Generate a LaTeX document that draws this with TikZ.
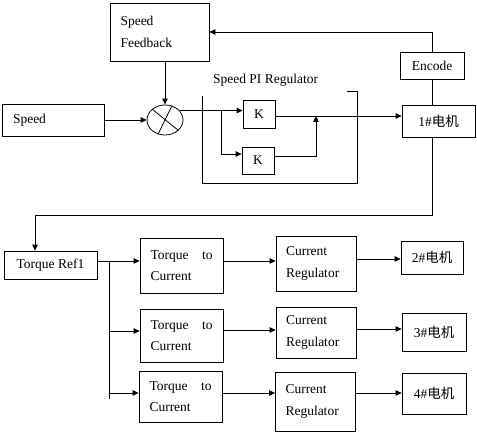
\documentclass[tikz,border=0pt]{standalone}
\usepackage{fontspec}
\setmainfont{Liberation Serif}
\newfontfamily\cjk{Noto Sans CJK SC}
\usetikzlibrary{arrows.meta,shapes.geometric}
\begin{document}
\begin{tikzpicture}[x=1pt,y=-1pt, line width=0.8pt,
  font=\fontsize{13.5}{21.5}\selectfont,
  box/.style={draw, rectangle, inner sep=0pt},
  arr/.style={-{Triangle[length=6pt,width=5.5pt]}},
  tc/.style={box, minimum width=83pt, text width=62pt, align=left},
  cr/.style={box, minimum width=80pt, text width=60pt, align=left}]
\useasboundingbox (0,0) rectangle (477,435);
% upper part
\node[box, minimum width=99pt, minimum height=58pt, text width=78pt, align=left] (fb) at (159.5,32) {Speed\\Feedback};
\node[box, minimum width=102pt, minimum height=32pt, text width=80pt, align=left] (spd) at (53,120) {Speed};
\node[draw, ellipse, minimum width=36pt, minimum height=30pt, inner sep=0pt] (sum) at (165,120) {};
\draw (sum.140) -- (sum.-38);
\draw (sum.64) -- (sum.244);
\node[box, minimum width=32pt, minimum height=28pt] (k1) at (259,114) {K};
\node[box, minimum width=32pt, minimum height=27pt] (k2) at (258,160.5) {K};
\node[box, minimum width=73pt, minimum height=32pt] (m1) at (438.5,121) {1\#{\cjk 电机}};
\node[box, minimum width=64pt, minimum height=27pt] (enc) at (432,65.5) {Encode};
\node (pil) at (265.5,80) {Speed PI Regulator};
\draw (347,91) -- (357,91) -- (357,183) -- (202,183) -- (202,96);
% upper connectors
\draw[arr] (spd) -- (sum);
\draw[arr] (fb.south -| sum) -- (sum.north);
\draw[arr] (sum.33) -- (sum.33 -| k1.west);
\coordinate (br) at (221,111);
\draw[arr] (br) |- ([yshift=6.5pt]k2.west);
\draw[arr] ([yshift=-2pt]k1.east) -- ([yshift=-2pt]k1.east -| m1.west);
\coordinate (j) at (316,116);
\draw[arr] ([yshift=4.5pt]k2.east) -| (j);
\draw[arr] (enc.north) |- (fb.east);
\draw (enc.south) -- (enc.south |- m1.north);
\coordinate (d1) at (432,215);
\coordinate (d2) at (35,215);
% lower part
\node[box, minimum width=93pt, minimum height=28pt] (tr) at (50.5,265) {Torque Ref1};
\draw[arr] (m1.south -| enc.south) -- (d1) -- (d2) -- (d2 |- tr.north);
\node[tc, minimum height=55pt] (t1) at (181.5,265.5) {Torque\hfill to\\Current};
\node[tc, minimum height=53pt] (t2) at (181.5,335.5) {Torque\hfill to\\Current};
\node[tc, minimum height=51pt] (t3) at (180.5,396.5) {Torque\hfill to\\Current};
\node[cr, minimum height=55pt] (c1) at (316,263.5) {Current\\Regulator};
\node[cr, minimum height=51pt] (c2) at (316,332.5) {Current\\Regulator};
\node[cr, minimum height=59pt] (c3) at (315.5,401.5) {Current\\Regulator};
\node[box, minimum width=62pt, minimum height=33pt] (m2) at (432,257.5) {2\#{\cjk 电机}};
\node[box, minimum width=64pt, minimum height=38pt] (m3) at (434,332) {3\#{\cjk 电机}};
\node[box, minimum width=64pt, minimum height=41pt] (m4) at (434,393.5) {4\#{\cjk 电机}};
\coordinate (bt) at (109,261);
\coordinate (bb) at (109,399);
\draw[arr] (tr.east |- bt) -- (t1.west |- bt);
\draw (bt) -- (bb);
\draw[arr] (bt |- 0,331) -- (t2.west |- 0,331);
\draw[arr] (bt |- 0,393) -- (t3.west |- 0,393);
\draw[arr] (t1.east |- 0,261) -- (c1.west |- 0,261);
\draw[arr] (c1.east |- 0,259) -- (m2.west |- 0,259);
\draw[arr] (t2.east |- 0,330) -- (c2.west |- 0,330);
\draw[arr] (c2.east |- 0,329) -- (m3.west |- 0,329);
\draw[arr] (t3.east |- 0,393) -- (c3.west |- 0,393);
\draw[arr] (c3.east |- 0,393) -- (m4.west |- 0,393);
\end{tikzpicture}
\end{document}
